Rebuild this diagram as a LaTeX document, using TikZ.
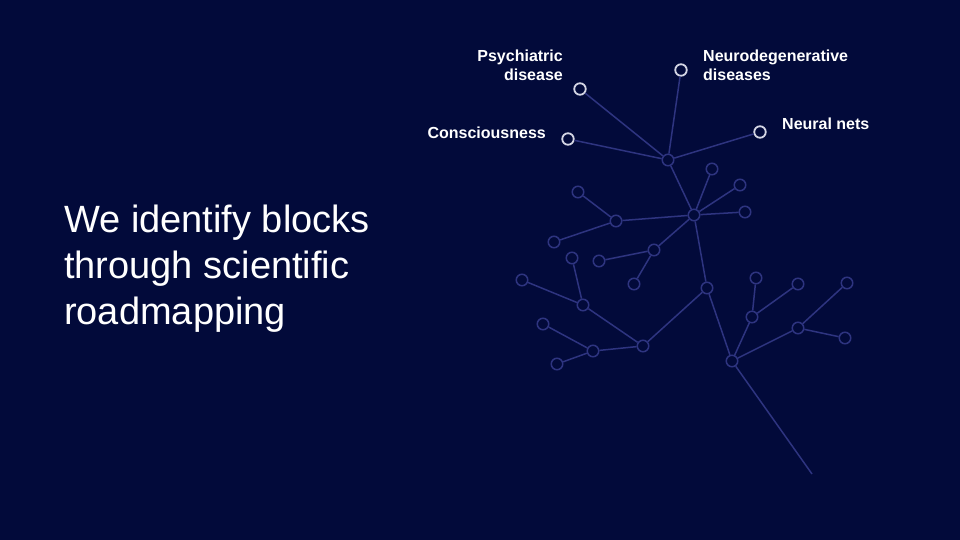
\documentclass[tikz,border=0pt]{standalone}
\usepackage{fontspec}
\setmainfont{Liberation Sans}
\definecolor{bg}{HTML}{020A3A}
\definecolor{edge}{HTML}{2E3480}
\definecolor{ring}{HTML}{D4D6E4}
\begin{document}
\begin{tikzpicture}[x=1pt,y=-1pt,
  leaf/.style={circle,draw=edge,line width=1.5pt,fill=bg,minimum size=11.5pt,inner sep=0pt},
  topleaf/.style={circle,draw=ring,line width=1.8pt,fill=bg,minimum size=11.5pt,inner sep=0pt},
  link/.style={draw=edge,line width=1.5pt},
  lab/.style={text=white,font=\bfseries\fontsize{16}{19.5}\selectfont,inner sep=0pt}]
\fill[bg] (0,0) rectangle (960,540);
\useasboundingbox (0,0) rectangle (960,540);
% title
\node[text=white,font=\fontsize{38}{46}\selectfont,align=left,anchor=base west,inner sep=0pt] (title) at (64,324) {We identify blocks\\through scientific\\roadmapping};
% top leaves
\node[topleaf] (psy) at (580,89) {};
\node[topleaf] (neu) at (681,70) {};
\node[topleaf] (con) at (568,139) {};
\node[topleaf] (net) at (760,132) {};
% tree nodes
\node[leaf] (A) at (668,160) {};
\node[leaf] (B) at (694,215) {};
\node[leaf] (b1) at (712,169) {};
\node[leaf] (b2) at (740,185) {};
\node[leaf] (b3) at (745,212) {};
\node[leaf] (b4) at (616,221) {};
\node[leaf] (b41) at (578,192) {};
\node[leaf] (b42) at (554,242) {};
\node[leaf] (b5) at (654,250) {};
\node[leaf] (b51) at (599,261) {};
\node[leaf] (b52) at (634,284) {};
\node[leaf] (C) at (707,288) {};
\node[leaf] (D) at (643,346) {};
\node[leaf] (d1) at (583,305) {};
\node[leaf] (d11) at (572,258) {};
\node[leaf] (d12) at (522,280) {};
\node[leaf] (d2) at (593,351) {};
\node[leaf] (d21) at (543,324) {};
\node[leaf] (d22) at (557,364) {};
\node[leaf] (E) at (732,361) {};
\node[leaf] (e1) at (752,317) {};
\node[leaf] (e11) at (756,278) {};
\node[leaf] (e12) at (798,284) {};
\node[leaf] (e2) at (798,328) {};
\node[leaf] (e21) at (847,283) {};
\node[leaf] (e22) at (845,338) {};
\coordinate (root) at (812,474);
% links
\foreach \a/\b in {A/psy,A/neu,A/con,A/net,A/B,B/b1,B/b2,B/b3,B/b4,B/b5,B/C,
  b4/b41,b4/b42,b5/b51,b5/b52,C/D,C/E,D/d1,D/d2,d1/d11,d1/d12,d2/d21,d2/d22,
  E/e1,E/e2,e1/e11,e1/e12,e2/e21,e2/e22}
  \draw[link] (\a) -- (\b);
\draw[link] (E) -- (root);
% labels
\node[lab,align=right,anchor=base east] (lpsy) at (563,81) {Psychiatric\\disease};
\node[lab,align=left,anchor=base west] (lneu) at (703,81) {Neurodegenerative\\diseases};
\node[lab,anchor=base east] (lcon) at (546,139) {Consciousness};
\node[lab,anchor=base west] (lnet) at (782,130) {Neural nets};
\end{tikzpicture}
\end{document}
